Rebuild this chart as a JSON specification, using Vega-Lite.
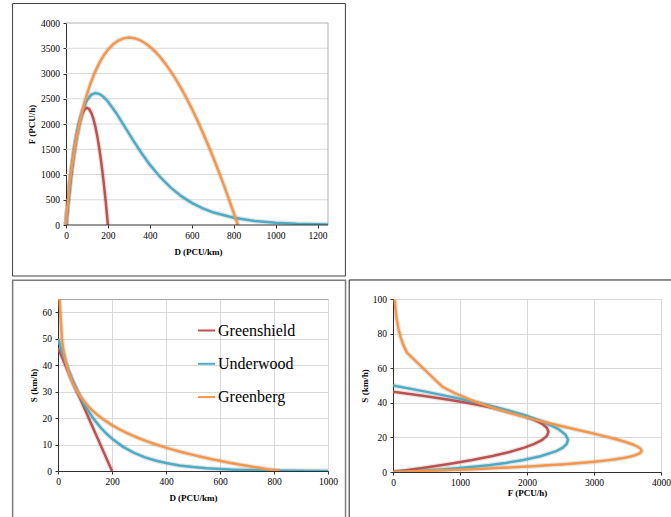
{
  "$schema": "https://vega.github.io/schema/vega-lite/v6.json",
  "background": "white",
  "padding": {"left": 11, "top": 3, "right": 0, "bottom": 0},
  "config": {
    "font": "Liberation Serif",
    "view": {"stroke": "#a6a6a6", "strokeWidth": 1},
    "axis": {
      "labelFont": "Liberation Serif", "labelFontSize": 9.5, "labelColor": "#000",
      "titleFont": "Liberation Serif", "titleFontSize": 9, "titleFontWeight": "bold", "titleColor": "#000",
      "domainColor": "#303030", "tickColor": "#303030", "tickSize": 3,
      "gridColor": "#d9d9d9", "gridWidth": 1, "labelFlush": false, "labelOverlap": false, "format": "d"
    },
    "axisX": {"labelPadding": 2.5, "titlePadding": 7},
    "axisY": {"labelPadding": 3.5, "titlePadding": 4}
  },
  "datasets": {
    "curves": [
      {"model": "Greenshield", "D": 0, "S": 46.4, "F": 0},
      {"model": "Greenshield", "D": 10, "S": 44.08, "F": 440.8},
      {"model": "Greenshield", "D": 20, "S": 41.76, "F": 835.2},
      {"model": "Greenshield", "D": 30, "S": 39.44, "F": 1183.2},
      {"model": "Greenshield", "D": 40, "S": 37.12, "F": 1484.8},
      {"model": "Greenshield", "D": 50, "S": 34.8, "F": 1740},
      {"model": "Greenshield", "D": 60, "S": 32.48, "F": 1948.8},
      {"model": "Greenshield", "D": 70, "S": 30.16, "F": 2111.2},
      {"model": "Greenshield", "D": 80, "S": 27.84, "F": 2227.2},
      {"model": "Greenshield", "D": 90, "S": 25.52, "F": 2296.8},
      {"model": "Greenshield", "D": 100, "S": 23.2, "F": 2320},
      {"model": "Greenshield", "D": 110, "S": 20.88, "F": 2296.8},
      {"model": "Greenshield", "D": 120, "S": 18.56, "F": 2227.2},
      {"model": "Greenshield", "D": 130, "S": 16.24, "F": 2111.2},
      {"model": "Greenshield", "D": 140, "S": 13.92, "F": 1948.8},
      {"model": "Greenshield", "D": 150, "S": 11.6, "F": 1740},
      {"model": "Greenshield", "D": 160, "S": 9.28, "F": 1484.8},
      {"model": "Greenshield", "D": 170, "S": 6.96, "F": 1183.2},
      {"model": "Greenshield", "D": 180, "S": 4.64, "F": 835.2},
      {"model": "Greenshield", "D": 190, "S": 2.32, "F": 440.8},
      {"model": "Greenshield", "D": 200, "S": 0, "F": 0},
      {"model": "Underwood", "D": 0, "S": 50, "F": 0},
      {"model": "Underwood", "D": 10, "S": 46.6, "F": 466},
      {"model": "Underwood", "D": 20, "S": 43.431, "F": 868.6},
      {"model": "Underwood", "D": 30, "S": 40.478, "F": 1214.3},
      {"model": "Underwood", "D": 40, "S": 37.725, "F": 1509},
      {"model": "Underwood", "D": 50, "S": 35.159, "F": 1758},
      {"model": "Underwood", "D": 60, "S": 32.768, "F": 1966.1},
      {"model": "Underwood", "D": 80, "S": 28.464, "F": 2277.1},
      {"model": "Underwood", "D": 100, "S": 24.725, "F": 2472.4},
      {"model": "Underwood", "D": 120, "S": 21.477, "F": 2577.2},
      {"model": "Underwood", "D": 140, "S": 18.655, "F": 2611.7},
      {"model": "Underwood", "D": 160, "S": 16.204, "F": 2592.6},
      {"model": "Underwood", "D": 180, "S": 14.075, "F": 2533.5},
      {"model": "Underwood", "D": 200, "S": 12.226, "F": 2445.3},
      {"model": "Underwood", "D": 240, "S": 9.225, "F": 2213.9},
      {"model": "Underwood", "D": 280, "S": 6.96, "F": 1948.8},
      {"model": "Underwood", "D": 320, "S": 5.252, "F": 1680.5},
      {"model": "Underwood", "D": 360, "S": 3.962, "F": 1426.4},
      {"model": "Underwood", "D": 400, "S": 2.99, "F": 1195.8},
      {"model": "Underwood", "D": 450, "S": 2.102, "F": 946},
      {"model": "Underwood", "D": 500, "S": 1.478, "F": 739.2},
      {"model": "Underwood", "D": 550, "S": 1.04, "F": 571.8},
      {"model": "Underwood", "D": 600, "S": 0.731, "F": 438.6},
      {"model": "Underwood", "D": 650, "S": 0.514, "F": 334.1},
      {"model": "Underwood", "D": 700, "S": 0.3615, "F": 253},
      {"model": "Underwood", "D": 800, "S": 0.1788, "F": 143},
      {"model": "Underwood", "D": 900, "S": 0.0884, "F": 79.5},
      {"model": "Underwood", "D": 1000, "S": 0.0437, "F": 43.7},
      {"model": "Underwood", "D": 1100, "S": 0.0216, "F": 23.8},
      {"model": "Underwood", "D": 1250, "S": 0.0075, "F": 9.4},
      {"model": "Greenberg", "D": 0, "F": 0},
      {"model": "Greenberg", "D": 0.25, "S": 99.58, "F": 24.9},
      {"model": "Greenberg", "D": 0.4, "S": 93.8, "F": 37.5},
      {"model": "Greenberg", "D": 0.6, "S": 88.81, "F": 53.3},
      {"model": "Greenberg", "D": 1, "S": 82.52, "F": 82.5},
      {"model": "Greenberg", "D": 1.5, "S": 77.54, "F": 116.3},
      {"model": "Greenberg", "D": 2, "S": 74, "F": 148},
      {"model": "Greenberg", "D": 3, "S": 69.01, "F": 207},
      {"model": "Greenberg", "D": 15, "S": 49.22, "F": 738.2},
      {"model": "Greenberg", "D": 20, "S": 45.68, "F": 913.5},
      {"model": "Greenberg", "D": 30, "S": 40.69, "F": 1220.7},
      {"model": "Greenberg", "D": 40, "S": 37.15, "F": 1486.1},
      {"model": "Greenberg", "D": 50, "S": 34.41, "F": 1720.3},
      {"model": "Greenberg", "D": 60, "S": 32.16, "F": 1929.8},
      {"model": "Greenberg", "D": 70, "S": 30.27, "F": 2118.8},
      {"model": "Greenberg", "D": 80, "S": 28.63, "F": 2290.1},
      {"model": "Greenberg", "D": 90, "S": 27.18, "F": 2445.9},
      {"model": "Greenberg", "D": 100, "S": 25.88, "F": 2588.1},
      {"model": "Greenberg", "D": 115, "S": 24.16, "F": 2778.6},
      {"model": "Greenberg", "D": 130, "S": 22.65, "F": 2945},
      {"model": "Greenberg", "D": 145, "S": 21.31, "F": 3090},
      {"model": "Greenberg", "D": 160, "S": 20.1, "F": 3216},
      {"model": "Greenberg", "D": 180, "S": 18.65, "F": 3357.2},
      {"model": "Greenberg", "D": 200, "S": 17.36, "F": 3471},
      {"model": "Greenberg", "D": 225, "S": 15.91, "F": 3579},
      {"model": "Greenberg", "D": 250, "S": 14.61, "F": 3652.6},
      {"model": "Greenberg", "D": 275, "S": 13.44, "F": 3695.5},
      {"model": "Greenberg", "D": 300, "S": 12.37, "F": 3710.4},
      {"model": "Greenberg", "D": 325, "S": 11.38, "F": 3699.6},
      {"model": "Greenberg", "D": 350, "S": 10.47, "F": 3665.1},
      {"model": "Greenberg", "D": 375, "S": 9.62, "F": 3608.7},
      {"model": "Greenberg", "D": 400, "S": 8.83, "F": 3531.8},
      {"model": "Greenberg", "D": 425, "S": 8.08, "F": 3435.6},
      {"model": "Greenberg", "D": 450, "S": 7.38, "F": 3321.4},
      {"model": "Greenberg", "D": 475, "S": 6.72, "F": 3190},
      {"model": "Greenberg", "D": 500, "S": 6.08, "F": 3042.4},
      {"model": "Greenberg", "D": 525, "S": 5.49, "F": 2879.5},
      {"model": "Greenberg", "D": 550, "S": 4.91, "F": 2701.9},
      {"model": "Greenberg", "D": 575, "S": 4.37, "F": 2510.4},
      {"model": "Greenberg", "D": 600, "S": 3.84, "F": 2305.3},
      {"model": "Greenberg", "D": 625, "S": 3.34, "F": 2087.6},
      {"model": "Greenberg", "D": 650, "S": 2.86, "F": 1857.6},
      {"model": "Greenberg", "D": 675, "S": 2.39, "F": 1615.5},
      {"model": "Greenberg", "D": 700, "S": 1.95, "F": 1362.3},
      {"model": "Greenberg", "D": 725, "S": 1.51, "F": 1098},
      {"model": "Greenberg", "D": 750, "S": 1.1, "F": 823.1},
      {"model": "Greenberg", "D": 775, "S": 0.69, "F": 538},
      {"model": "Greenberg", "D": 800, "S": 0.3, "F": 243},
      {"model": "Greenberg", "D": 810, "S": 0.15, "F": 122.3},
      {"model": "Greenberg", "D": 820, "S": 0, "F": 0}
    ],
    "fgrid": [{"F": 500}, {"F": 1000}, {"F": 1500}, {"F": 2000}, {"F": 2500}, {"F": 3000}, {"F": 3500}]
  },
  "resolve": {"scale": {"color": "independent"}, "legend": {"color": "independent"}},
  "columns": 1,
  "spacing": 1,
  "concat": [
    {
      "width": 270,
      "height": 202,
      "view": {"stroke": null},
      "layer": [
        {
          "data": {"name": "fgrid"},
          "mark": {"type": "rule", "color": "#d9d9d9", "strokeWidth": 1},
          "encoding": {
            "x": {"datum": 0, "type": "quantitative", "scale": {"domain": [-38.17, 1250], "nice": false, "zero": false}, "axis": {"values": [0, 200, 400, 600, 800, 1000, 1200], "title": "D (PCU/km)", "titleX": 140, "domain": false, "labelOverlap": false}},
            "x2": {"datum": 1250},
            "y": {"field": "F", "type": "quantitative", "scale": {"domain": [0, 4000], "nice": false}, "axis": {"values": [0, 500, 1000, 1500, 2000, 2500, 3000, 3500, 4000], "title": "F (PCU/h)", "offset": -8, "grid": false, "labelOverlap": false}}
          }
        },
        {
          "data": {"values": [{}]},
          "mark": {"type": "rule", "color": "#b0b0b0", "strokeWidth": 1},
          "encoding": {
            "x": {"datum": 0, "type": "quantitative", "axis": {"values": [0, 200, 400, 600, 800, 1000, 1200], "title": "D (PCU/km)", "titleX": 140, "domain": false, "labelOverlap": false}},
            "x2": {"datum": 1250},
            "y": {"datum": 4000, "type": "quantitative", "axis": {"values": [0, 500, 1000, 1500, 2000, 2500, 3000, 3500, 4000], "title": "F (PCU/h)", "offset": -8, "grid": false, "labelOverlap": false}}
          }
        },
        {
          "data": {"values": [{}]},
          "mark": {"type": "rule", "color": "#b0b0b0", "strokeWidth": 1},
          "encoding": {
            "x": {"datum": 1250, "type": "quantitative", "axis": {"values": [0, 200, 400, 600, 800, 1000, 1200], "title": "D (PCU/km)", "titleX": 140, "domain": false, "labelOverlap": false}},
            "y": {"datum": 0, "type": "quantitative", "axis": {"values": [0, 500, 1000, 1500, 2000, 2500, 3000, 3500, 4000], "title": "F (PCU/h)", "offset": -8, "grid": false, "labelOverlap": false}},
            "y2": {"datum": 4000}
          }
        },
        {
          "data": {"name": "curves"},
          "mark": {"type": "line", "strokeWidth": 5, "color": "#000", "opacity": 0.1, "clip": true},
          "encoding": {
            "x": {"field": "D", "type": "quantitative", "axis": {"values": [0, 200, 400, 600, 800, 1000, 1200], "title": "D (PCU/km)", "titleX": 140, "domain": false, "labelOverlap": false}},
            "y": {"field": "F", "type": "quantitative", "axis": {"values": [0, 500, 1000, 1500, 2000, 2500, 3000, 3500, 4000], "title": "F (PCU/h)", "offset": -8, "grid": false, "labelOverlap": false}},
            "detail": {"field": "model"}
          }
        },
        {
          "data": {"name": "curves"},
          "mark": {"type": "line", "strokeWidth": 2.5, "clip": true},
          "encoding": {
            "x": {"field": "D", "type": "quantitative", "axis": {"values": [0, 200, 400, 600, 800, 1000, 1200], "title": "D (PCU/km)", "titleX": 140, "domain": false, "labelOverlap": false}},
            "y": {"field": "F", "type": "quantitative", "axis": {"values": [0, 500, 1000, 1500, 2000, 2500, 3000, 3500, 4000], "title": "F (PCU/h)", "offset": -8, "grid": false, "labelOverlap": false}},
            "color": {"field": "model", "type": "nominal", "scale": {"domain": ["Greenshield", "Underwood", "Greenberg"], "range": ["#C0504D", "#4BACC6", "#F79646"]}, "legend": null}
          }
        },
        {
          "data": {"values": [{}]},
          "mark": {"type": "rule", "color": "#303030", "strokeWidth": 1},
          "encoding": {
            "x": {"datum": 0, "type": "quantitative", "axis": {"values": [0, 200, 400, 600, 800, 1000, 1200], "title": "D (PCU/km)", "titleX": 140, "domain": false, "labelOverlap": false}},
            "x2": {"datum": 1250},
            "y": {"datum": 0, "type": "quantitative", "axis": {"values": [0, 500, 1000, 1500, 2000, 2500, 3000, 3500, 4000], "title": "F (PCU/h)", "offset": -8, "grid": false, "labelOverlap": false}}
          }
        },
        {
          "data": {"values": [{}]},
          "mark": {"type": "rect", "filled": false, "stroke": "#404040", "strokeWidth": 1, "clip": false},
          "encoding": {
            "x": {"datum": -255, "type": "quantitative", "axis": {"values": [0, 200, 400, 600, 800, 1000, 1200], "title": "D (PCU/km)", "titleX": 140, "domain": false, "labelOverlap": false}},
            "x2": {"datum": 1333},
            "y": {"datum": 4386, "type": "quantitative", "axis": {"values": [0, 500, 1000, 1500, 2000, 2500, 3000, 3500, 4000], "title": "F (PCU/h)", "offset": -8, "grid": false, "labelOverlap": false}},
            "y2": {"datum": -1010}
          }
        }
      ]
    },
    {
      "columns": 2,
      "spacing": 1,
      "resolve": {"scale": {"color": "independent"}, "legend": {"color": "independent"}},
      "concat": [
        {
          "width": 270,
          "height": 172,
          "layer": [
            {
              "data": {"name": "curves"},
              "transform": [{"filter": "isValid(datum.S)"}],
              "mark": {"type": "line", "strokeWidth": 5, "color": "#000", "opacity": 0.1, "clip": true},
              "encoding": {
                "x": {"field": "D", "type": "quantitative", "scale": {"domain": [0, 1000], "nice": false}, "axis": {"values": [0, 200, 400, 600, 800, 1000], "title": "D (PCU/km)", "labelOverlap": false}},
                "y": {"field": "S", "type": "quantitative", "scale": {"domain": [0, 65], "nice": false}, "axis": {"values": [0, 10, 20, 30, 40, 50, 60], "title": "S (km/h)", "labelOverlap": false}},
                "detail": {"field": "model"}
              }
            },
            {
              "data": {"name": "curves"},
              "transform": [{"filter": "isValid(datum.S)"}],
              "mark": {"type": "line", "strokeWidth": 2.5, "clip": true},
              "encoding": {
                "x": {"field": "D", "type": "quantitative", "axis": {"values": [0, 200, 400, 600, 800, 1000], "title": "D (PCU/km)", "labelOverlap": false}},
                "y": {"field": "S", "type": "quantitative", "axis": {"values": [0, 10, 20, 30, 40, 50, 60], "title": "S (km/h)", "labelOverlap": false}},
                "color": {
                  "field": "model", "type": "nominal",
                  "scale": {"domain": ["Greenshield", "Underwood", "Greenberg"], "range": ["#C0504D", "#4BACC6", "#F79646"]},
                  "legend": {
                    "orient": "none", "legendX": 139, "legendY": 22, "title": null,
                    "labelFont": "Liberation Serif", "labelFontSize": 16, "labelColor": "#000",
                    "symbolType": "stroke", "symbolStrokeWidth": 2, "symbolSize": 289,
                    "rowPadding": 15.3, "labelOffset": 2, "padding": 0
                  }
                }
              }
            },
            {
              "data": {"values": [{}]},
              "mark": {"type": "rect", "filled": false, "stroke": "#7a7a7a", "strokeWidth": 1.5, "clip": false},
              "encoding": {
                "x": {"datum": -168, "type": "quantitative", "axis": {"values": [0, 200, 400, 600, 800, 1000], "title": "D (PCU/km)", "labelOverlap": false}},
                "x2": {"datum": 1065},
                "y": {"datum": 72.1, "type": "quantitative", "axis": {"values": [0, 10, 20, 30, 40, 50, 60], "title": "S (km/h)", "labelOverlap": false}},
                "y2": {"datum": -22}
              }
            }
          ]
        },
        {
          "width": 268,
          "height": 173,
          "layer": [
            {
              "data": {"name": "curves"},
              "transform": [{"filter": "isValid(datum.S)"}],
              "mark": {"type": "line", "strokeWidth": 5, "color": "#000", "opacity": 0.1, "clip": true},
              "encoding": {
                "x": {"field": "F", "type": "quantitative", "scale": {"domain": [0, 4000], "nice": false}, "axis": {"values": [0, 1000, 2000, 3000, 4000], "title": "F (PCU/h)", "titlePadding": 1, "labelOverlap": false}},
                "y": {"field": "S", "type": "quantitative", "scale": {"domain": [0, 100], "nice": false}, "axis": {"values": [0, 20, 40, 60, 80, 100], "title": "S (km/h)", "titlePadding": 3, "labelOverlap": false}},
                "detail": {"field": "model"},
                "order": {"field": "D", "type": "quantitative"}
              }
            },
            {
              "data": {"name": "curves"},
              "transform": [{"filter": "isValid(datum.S)"}],
              "mark": {"type": "line", "strokeWidth": 2.5, "clip": true},
              "encoding": {
                "x": {"field": "F", "type": "quantitative", "axis": {"values": [0, 1000, 2000, 3000, 4000], "title": "F (PCU/h)", "titlePadding": 1, "labelOverlap": false}},
                "y": {"field": "S", "type": "quantitative", "axis": {"values": [0, 20, 40, 60, 80, 100], "title": "S (km/h)", "titlePadding": 3, "labelOverlap": false}},
                "order": {"field": "D", "type": "quantitative"},
                "color": {"field": "model", "type": "nominal", "scale": {"domain": ["Greenshield", "Underwood", "Greenberg"], "range": ["#C0504D", "#4BACC6", "#F79646"]}, "legend": null}
              }
            },
            {
              "data": {"values": [{}]},
              "mark": {"type": "rect", "filled": false, "stroke": "#202020", "strokeWidth": 1, "clip": false},
              "encoding": {
                "x": {"datum": -654, "type": "quantitative", "axis": {"values": [0, 1000, 2000, 3000, 4000], "title": "F (PCU/h)", "titlePadding": 1, "labelOverlap": false}},
                "x2": {"datum": 4563},
                "y": {"datum": 111, "type": "quantitative", "axis": {"values": [0, 20, 40, 60, 80, 100], "title": "S (km/h)", "titlePadding": 3, "labelOverlap": false}},
                "y2": {"datum": -33}
              }
            }
          ]
        }
      ]
    }
  ]
}
